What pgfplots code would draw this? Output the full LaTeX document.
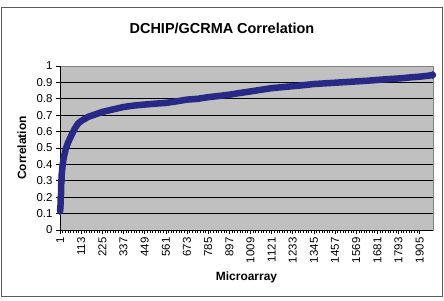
\documentclass[border=0pt]{standalone}
\usepackage{pgfplots}
\pgfplotsset{compat=1.18}
\usepackage{fontspec}
\setmainfont{Liberation Sans}
\definecolor{navy}{RGB}{40,40,135}
\definecolor{plotgray}{RGB}{192,192,192}
\definecolor{framegray}{RGB}{90,90,90}
\pgfplotstableread{
x y
1 0.115
2 0.13
3 0.145
4 0.19
5 0.205
6 0.22
7 0.285
8 0.295
9 0.33
10 0.345
12 0.37
14 0.39
16 0.41
19 0.43
22 0.45
26 0.47
30 0.49
36 0.51
42 0.53
50 0.55
58 0.57
66 0.59
75 0.61
85 0.63
97 0.65
113 0.665
150 0.69
200 0.71
225 0.72
280 0.735
337 0.75
400 0.76
449 0.765
500 0.77
561 0.775
620 0.785
673 0.795
730 0.80
785 0.81
840 0.817
897 0.825
950 0.835
1009 0.845
1065 0.855
1121 0.865
1177 0.871
1233 0.877
1289 0.883
1345 0.89
1401 0.894
1457 0.898
1513 0.902
1569 0.906
1625 0.91
1681 0.915
1737 0.92
1793 0.924
1849 0.93
1905 0.935
1945 0.94
1975 0.945
}\corr
\pgfplotstableread{
x y
1 0.115
2 0.13
3 0.145
4 0.19
5 0.205
6 0.22
7 0.285
8 0.295
9 0.33
10 0.345
12 0.37
14 0.39
16 0.41
1975 0.945
}\corrmarks
\begin{document}
\begin{tikzpicture}[x=1bp,y=1bp]
\path[use as bounding box] (0,0) rectangle (444,300);
\draw[line width=1bp, color=framegray] (1.5,3.5) rectangle (442,292);
\node[font=\fontsize{14.5}{17}\selectfont\bfseries] at (222,272) {DCHIP/GCRMA Correlation};
\begin{axis}[at={(60bp,70bp)}, anchor=south west, scale only axis,
  width=373bp, height=164bp,
  xmin=0.5, xmax=1975.5, ymin=0, ymax=1,
  axis background/.style={fill=plotgray},
  axis line style={color=gray, line width=0.8bp},
  ymajorgrids, grid style={black, line width=0.7bp},
  ytick={0,0.1,0.2,0.3,0.4,0.5,0.6,0.7,0.8,0.9,1},
  yticklabels={0,0.1,0.2,0.3,0.4,0.5,0.6,0.7,0.8,0.9,1},
  xtick={1,113,225,337,449,561,673,785,897,1009,1121,1233,1345,1457,1569,1681,1793,1905},
  xticklabels={1,113,225,337,449,561,673,785,897,1009,1121,1233,1345,1457,1569,1681,1793,1905},
  minor x tick num=7,
  tick align=outside, major tick length=4bp, minor tick length=3bp,
  tick style={black, line width=0.7bp},
  xtick pos=bottom, ytick pos=left,
  ticklabel style={font=\fontsize{11.5}{13}\selectfont},
  xticklabel style={rotate=90, anchor=east},
  /pgf/number format/assume math mode=true,
  xlabel={Microarray}, ylabel={Correlation},
  label style={font=\fontsize{12}{14}\selectfont\bfseries},
  xlabel style={at={(axis description cs:0.5,-0.287)}, anchor=center},
  ylabel style={at={(axis description cs:-0.102,0.5)}, anchor=center, rotate=0},
  clip=false,
]
\draw[black, line width=0.8bp] (rel axis cs:0,1) -- (rel axis cs:0,0) -- (rel axis cs:1,0);
\addplot[color=navy, line width=6.5bp, line join=round, line cap=round, no marks] table {\corr};
\addplot[only marks, color=navy, mark=diamond*, mark size=3.8bp, mark options={solid, fill=navy}] table {\corrmarks};
\end{axis}
\end{tikzpicture}
\end{document}
